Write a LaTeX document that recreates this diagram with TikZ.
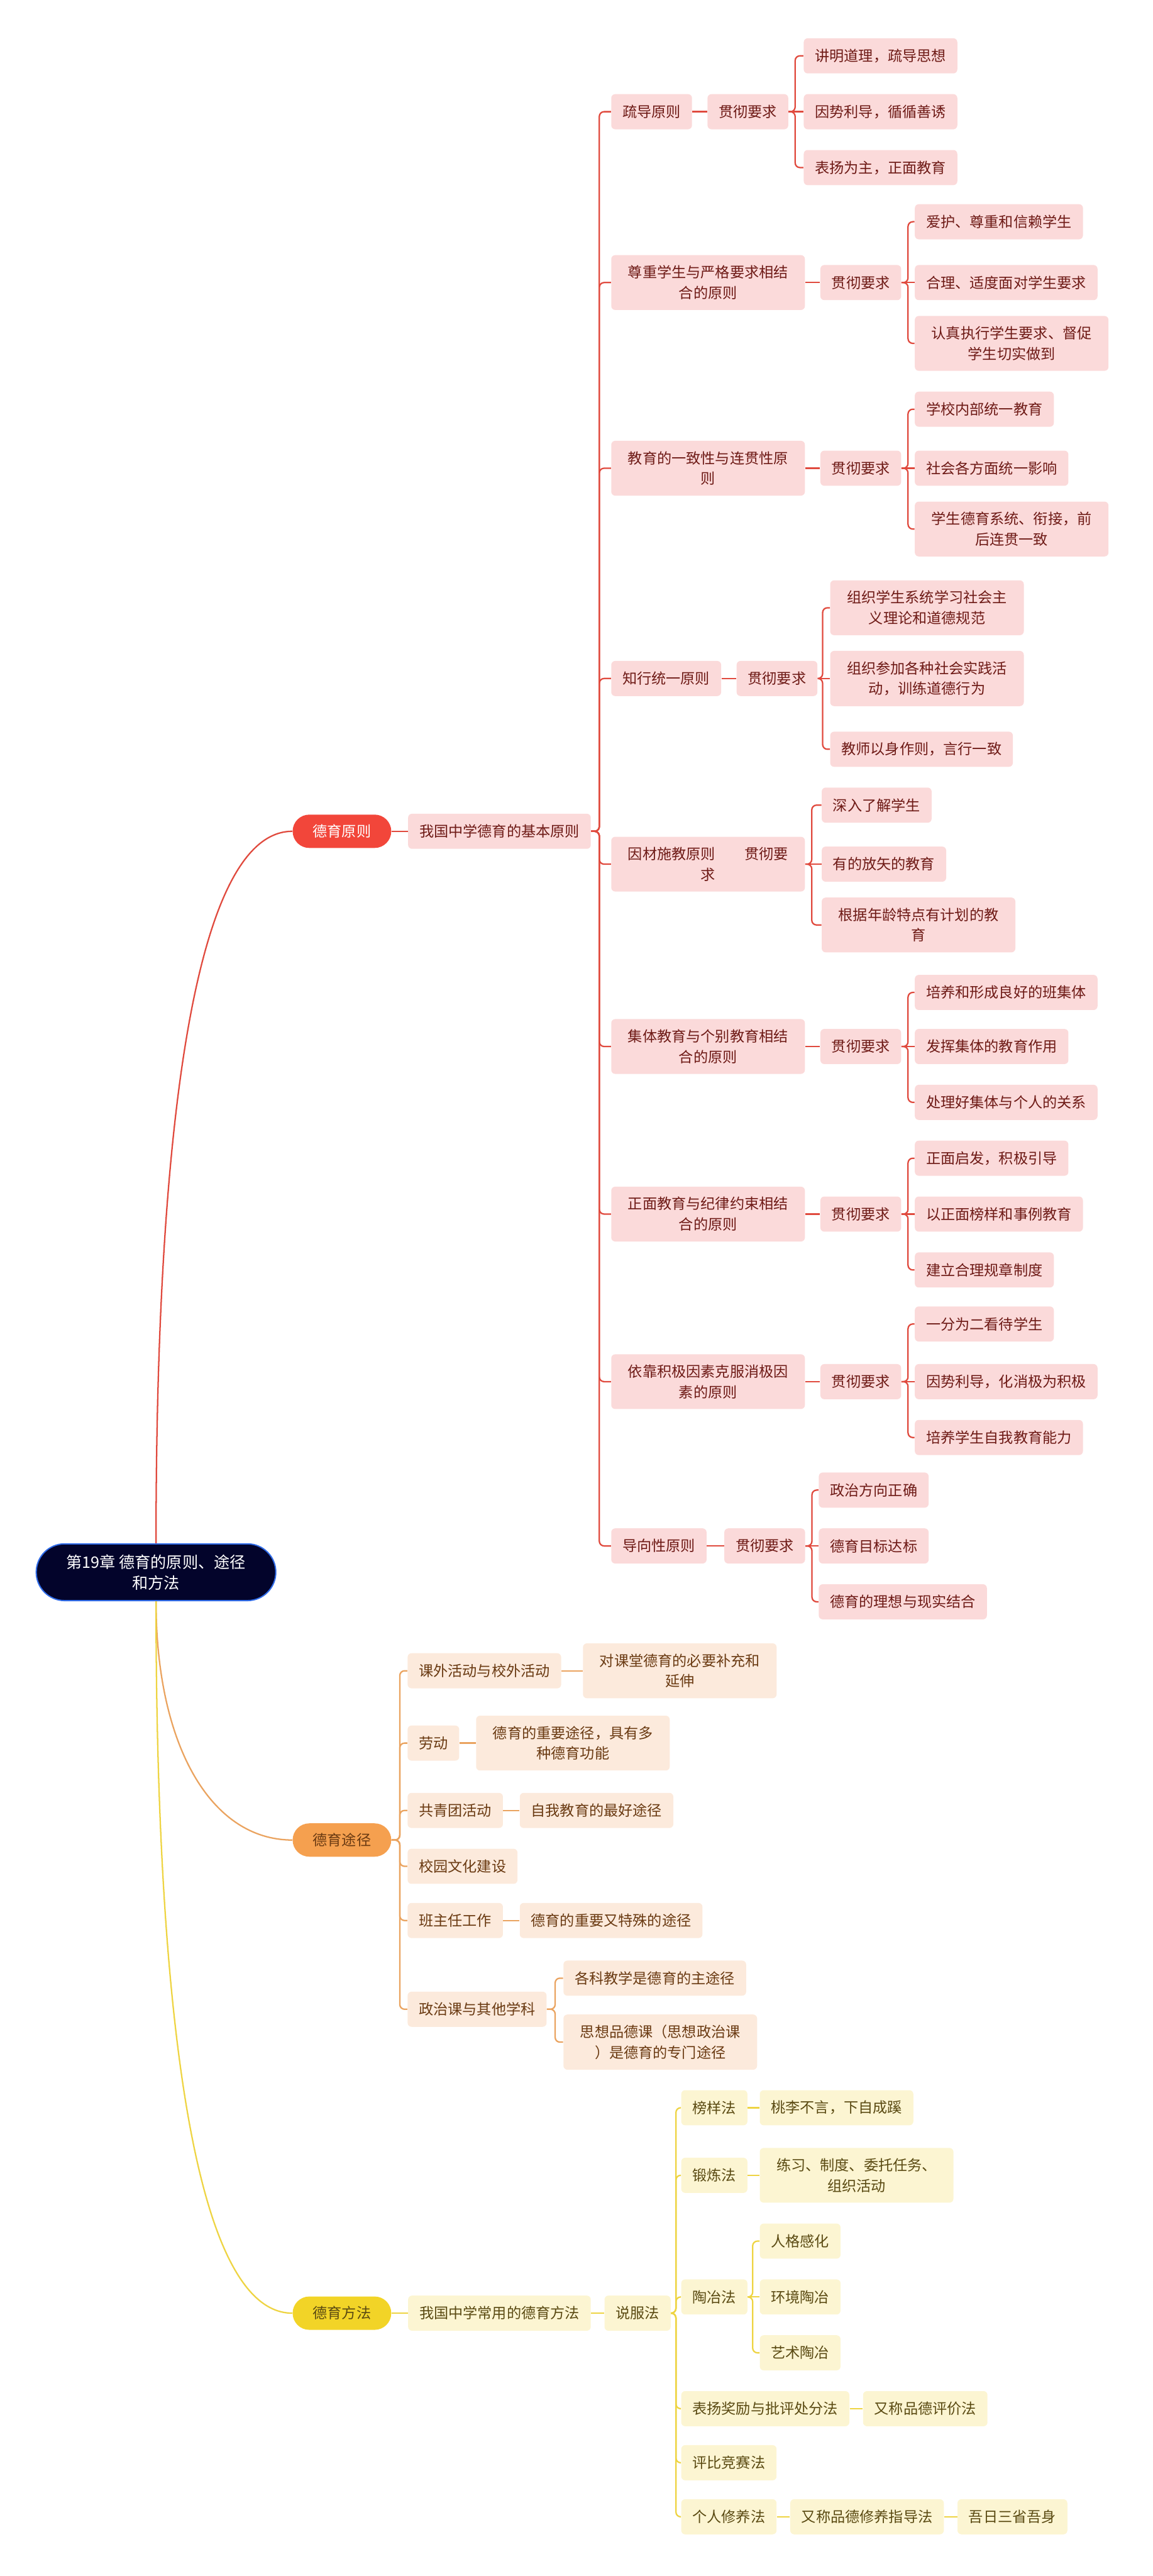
\documentclass[tikz,border=0pt]{standalone}
\usepackage{fontspec}
\usepackage{xcolor}
\usepackage{tikz}
\usetikzlibrary{
    positioning
}
\newfontfamily\cjk{Noto Sans CJK SC}

\definecolor{rootfill}{HTML}{03042B}
\definecolor{rootedge}{HTML}{2F6BE8}
\definecolor{redpill}{HTML}{F2463A}
\definecolor{redline}{HTML}{E04A3E}
\definecolor{redfill}{HTML}{FBDADA}
\definecolor{redtext}{HTML}{6E1A16}
\definecolor{orgpill}{HTML}{F5A04F}
\definecolor{orgline}{HTML}{EAA35F}
\definecolor{orgfill}{HTML}{FCEADC}
\definecolor{orgtext}{HTML}{6A3A12}
\definecolor{yelpill}{HTML}{F2D427}
\definecolor{yelline}{HTML}{EED443}
\definecolor{yelfill}{HTML}{FCF5D2}
\definecolor{yeltext}{HTML}{5A4A12}

\begin{document}
\begin{tikzpicture}[
    x=0.03647cm, y=-0.03647cm,
    box/.style={
        rounded corners=2.5pt,
        inner xsep=0.25cm,
        inner ysep=0.23cm,
        minimum height=0.78cm,
        align=center,
        font=\cjk\fontsize{9.2pt}{13pt}\selectfont
    },
    wrap/.style={text width=3.8cm},
    rbox/.style={box, fill=redfill, text=redtext},
    obox/.style={box, fill=orgfill, text=orgtext},
    ybox/.style={box, fill=yelfill, text=yeltext},
    pill/.style={
        rounded corners=0.37cm,
        minimum width=2.19cm,
        minimum height=0.74cm,
        inner sep=0pt,
        font=\cjk\fontsize{9.2pt}{13pt}\selectfont
    },
    rline/.style={draw=redline, line width=0.9pt},
    oline/.style={draw=orgline, line width=0.9pt},
    yline/.style={draw=yelline, line width=0.9pt},
    fork/.style={rounded corners=3pt}
]
\useasboundingbox (0,0) rectangle (702,1568);

% root and main branches
\node[draw=rootedge, fill=rootfill, text=white, line width=0.8pt,
rounded corners=0.63cm, minimum width=5.32cm, minimum height=1.26cm,
align=center, font=\cjk\fontsize{10pt}{13pt}\selectfont] (root) at (95,957)
{第19章 德育的原则、途径\\和方法};

\node[pill, fill=redpill, text=white, anchor=west] (prin) at (178,506) {德育原则};
\node[pill, fill=orgpill, text=orgtext, anchor=west] (way) at (178,1120) {德育途径};
\node[pill, fill=yelpill, text=yeltext, anchor=west] (meth) at (178,1408) {德育方法};

\draw[rline] (root.north) .. controls +(0,-238) and +(-62,0) .. (prin.west);
\draw[oline] (root.south) .. controls +(0,87) and +(-50,0) .. (way.west);
\draw[yline] (root.south) .. controls +(0,238) and +(-62,0) .. (meth.west);

% principles
\node[rbox, right=0.36cm of prin] (basic) {我国中学德育的基本原则};
\draw[rline] (prin) -- (basic);

\node[rbox, anchor=west] (p1) at (372,68) {疏导原则};
\node[rbox, right=0.33cm of p1] (r1) {贯彻要求};
\node[rbox, right=0.33cm of r1, yshift=1.24cm] (p1a) {讲明道理，疏导思想};
\node[rbox, right=0.33cm of r1] (p1b) {因势利导，循循善诱};
\node[rbox, right=0.33cm of r1, yshift=-1.24cm] (p1c) {表扬为主，正面教育};

\node[rbox, wrap, anchor=west] (p2) at (372,172) {尊重学生与严格要求相结\\合的原则};
\node[rbox, right=0.33cm of p2] (r2) {贯彻要求};
\node[rbox, right=0.29cm of r2, yshift=1.35cm] (p2a) {爱护、尊重和信赖学生};
\node[rbox, right=0.29cm of r2] (p2b) {合理、适度面对学生要求};
\node[rbox, wrap, right=0.29cm of r2, yshift=-1.35cm] (p2c) {认真执行学生要求、督促\\学生切实做到};

\node[rbox, wrap, anchor=west] (p3) at (372,285) {教育的一致性与连贯性原\\则};
\node[rbox, right=0.33cm of p3] (r3) {贯彻要求};
\node[rbox, right=0.29cm of r3, yshift=1.31cm] (p3a) {学校内部统一教育};
\node[rbox, right=0.29cm of r3] (p3b) {社会各方面统一影响};
\node[rbox, wrap, right=0.29cm of r3, yshift=-1.35cm] (p3c) {学生德育系统、衔接，前\\后连贯一致};

\node[rbox, anchor=west] (p4) at (372,413) {知行统一原则};
\node[rbox, right=0.33cm of p4] (r4) {贯彻要求};
\node[rbox, wrap, right=0.27cm of r4, yshift=1.57cm] (p4a) {组织学生系统学习社会主\\义理论和道德规范};
\node[rbox, wrap, right=0.27cm of r4] (p4b) {组织参加各种社会实践活\\动，训练道德行为};
\node[rbox, right=0.27cm of r4, yshift=-1.57cm] (p4c) {教师以身作则，言行一致};

\node[rbox, wrap, anchor=west] (p5) at (372,526) {因材施教原则\hspace{2em}贯彻要\\求};
\node[rbox, right=0.36cm of p5, yshift=1.31cm] (p5a) {深入了解学生};
\node[rbox, right=0.36cm of p5] (p5b) {有的放矢的教育};
\node[rbox, wrap, right=0.36cm of p5, yshift=-1.35cm] (p5c) {根据年龄特点有计划的教\\育};

\node[rbox, wrap, anchor=west] (p6) at (372,637) {集体教育与个别教育相结\\合的原则};
\node[rbox, right=0.33cm of p6] (r6) {贯彻要求};
\node[rbox, right=0.29cm of r6, yshift=1.20cm] (p6a) {培养和形成良好的班集体};
\node[rbox, right=0.29cm of r6] (p6b) {发挥集体的教育作用};
\node[rbox, right=0.29cm of r6, yshift=-1.24cm] (p6c) {处理好集体与个人的关系};

\node[rbox, wrap, anchor=west] (p7) at (372,739) {正面教育与纪律约束相结\\合的原则};
\node[rbox, right=0.33cm of p7] (r7) {贯彻要求};
\node[rbox, right=0.29cm of r7, yshift=1.24cm] (p7a) {正面启发，积极引导};
\node[rbox, right=0.29cm of r7] (p7b) {以正面榜样和事例教育};
\node[rbox, right=0.29cm of r7, yshift=-1.24cm] (p7c) {建立合理规章制度};

\node[rbox, wrap, anchor=west] (p8) at (372,841) {依靠积极因素克服消极因\\素的原则};
\node[rbox, right=0.33cm of p8] (r8) {贯彻要求};
\node[rbox, right=0.29cm of r8, yshift=1.28cm] (p8a) {一分为二看待学生};
\node[rbox, right=0.29cm of r8] (p8b) {因势利导，化消极为积极};
\node[rbox, right=0.29cm of r8, yshift=-1.24cm] (p8c) {培养学生自我教育能力};

\node[rbox, anchor=west] (p9) at (372,941) {导向性原则};
\node[rbox, right=0.38cm of p9] (r9) {贯彻要求};
\node[rbox, right=0.29cm of r9, yshift=1.24cm] (p9a) {政治方向正确};
\node[rbox, right=0.29cm of r9] (p9b) {德育目标达标};
\node[rbox, right=0.29cm of r9, yshift=-1.24cm] (p9c) {德育的理想与现实结合};

\draw[rline, fork] (basic.east) -- ++(5,0) |- (p1.west);
\draw[rline, fork] (basic.east) -- ++(5,0) |- (p2.west);
\draw[rline, fork] (basic.east) -- ++(5,0) |- (p3.west);
\draw[rline, fork] (basic.east) -- ++(5,0) |- (p4.west);
\draw[rline, fork] (basic.east) -- ++(5,0) |- (p5.west);
\draw[rline, fork] (basic.east) -- ++(5,0) |- (p6.west);
\draw[rline, fork] (basic.east) -- ++(5,0) |- (p7.west);
\draw[rline, fork] (basic.east) -- ++(5,0) |- (p8.west);
\draw[rline, fork] (basic.east) -- ++(5,0) |- (p9.west);

\draw[rline] (p1) -- (r1);
\draw[rline] (p2) -- (r2);
\draw[rline] (p3) -- (r3);
\draw[rline] (p4) -- (r4);
\draw[rline] (p6) -- (r6);
\draw[rline] (p7) -- (r7);
\draw[rline] (p8) -- (r8);
\draw[rline] (p9) -- (r9);

\draw[rline, fork] (r1.east) -- ++(4,0) |- (p1a.west);
\draw[rline] (r1) -- (p1b);
\draw[rline, fork] (r1.east) -- ++(4,0) |- (p1c.west);
\draw[rline, fork] (r2.east) -- ++(4,0) |- (p2a.west);
\draw[rline] (r2) -- (p2b);
\draw[rline, fork] (r2.east) -- ++(4,0) |- (p2c.west);
\draw[rline, fork] (r3.east) -- ++(4,0) |- (p3a.west);
\draw[rline] (r3) -- (p3b);
\draw[rline, fork] (r3.east) -- ++(4,0) |- (p3c.west);
\draw[rline, fork] (r4.east) -- ++(3,0) |- (p4a.west);
\draw[rline] (r4) -- (p4b);
\draw[rline, fork] (r4.east) -- ++(3,0) |- (p4c.west);
\draw[rline, fork] (p5.east) -- ++(4,0) |- (p5a.west);
\draw[rline] (p5) -- (p5b);
\draw[rline, fork] (p5.east) -- ++(4,0) |- (p5c.west);
\draw[rline, fork] (r6.east) -- ++(4,0) |- (p6a.west);
\draw[rline] (r6) -- (p6b);
\draw[rline, fork] (r6.east) -- ++(4,0) |- (p6c.west);
\draw[rline, fork] (r7.east) -- ++(4,0) |- (p7a.west);
\draw[rline] (r7) -- (p7b);
\draw[rline, fork] (r7.east) -- ++(4,0) |- (p7c.west);
\draw[rline, fork] (r8.east) -- ++(4,0) |- (p8a.west);
\draw[rline] (r8) -- (p8b);
\draw[rline, fork] (r8.east) -- ++(4,0) |- (p8c.west);
\draw[rline, fork] (r9.east) -- ++(4,0) |- (p9a.west);
\draw[rline] (r9) -- (p9b);
\draw[rline, fork] (r9.east) -- ++(4,0) |- (p9c.west);

% ways
\node[obox, anchor=west] (w1) at (248,1017) {课外活动与校外活动};
\node[obox, wrap, right=0.47cm of w1] (w1a) {对课堂德育的必要补充和\\延伸};
\node[obox, anchor=west] (w2) at (248,1061) {劳动};
\node[obox, wrap, right=0.36cm of w2] (w2a) {德育的重要途径，具有多\\种德育功能};
\node[obox, anchor=west] (w3) at (248,1102) {共青团活动};
\node[obox, right=0.36cm of w3] (w3a) {自我教育的最好途径};
\node[obox, anchor=west] (w4) at (248,1136) {校园文化建设};
\node[obox, anchor=west] (w5) at (248,1169) {班主任工作};
\node[obox, right=0.36cm of w5] (w5a) {德育的重要又特殊的途径};
\node[obox, anchor=west] (w6) at (248,1223) {政治课与其他学科};
\node[obox, right=0.36cm of w6, yshift=0.69cm] (w6a) {各科教学是德育的主途径};
\node[obox, wrap, right=0.36cm of w6, yshift=-0.73cm] (w6b) {思想品德课（思想政治课\\）是德育的专门途径};

\draw[oline, fork] (way.east) -- ++(5,0) |- (w1.west);
\draw[oline, fork] (way.east) -- ++(5,0) |- (w2.west);
\draw[oline, fork] (way.east) -- ++(5,0) |- (w3.west);
\draw[oline, fork] (way.east) -- ++(5,0) |- (w4.west);
\draw[oline, fork] (way.east) -- ++(5,0) |- (w5.west);
\draw[oline, fork] (way.east) -- ++(5,0) |- (w6.west);
\draw[oline] (w1) -- (w1a);
\draw[oline] (w2) -- (w2a);
\draw[oline] (w3) -- (w3a);
\draw[oline] (w5) -- (w5a);
\draw[oline, fork] (w6.east) -- ++(5,0) |- (w6a.west);
\draw[oline, fork] (w6.east) -- ++(5,0) |- (w6b.west);

% methods
\node[ybox, right=0.36cm of meth] (common) {我国中学常用的德育方法};
\node[ybox, right=0.29cm of common] (persuade) {说服法};
\draw[yline] (meth) -- (common);
\draw[yline] (common) -- (persuade);

\node[ybox, right=0.22cm of persuade, yshift=4.56cm] (m1) {榜样法};
\node[ybox, right=0.26cm of m1] (m1a) {桃李不言，下自成蹊};
\node[ybox, right=0.22cm of persuade, yshift=3.06cm] (m2) {锻炼法};
\node[ybox, wrap, right=0.26cm of m2] (m2a) {练习、制度、委托任务、\\组织活动};
\node[ybox, right=0.22cm of persuade, yshift=0.36cm] (m3) {陶冶法};
\node[ybox, right=0.26cm of m3, yshift=1.24cm] (m3a) {人格感化};
\node[ybox, right=0.26cm of m3] (m3b) {环境陶冶};
\node[ybox, right=0.26cm of m3, yshift=-1.24cm] (m3c) {艺术陶冶};
\node[ybox, right=0.22cm of persuade, yshift=-2.12cm] (m4) {表扬奖励与批评处分法};
\node[ybox, right=0.29cm of m4] (m4a) {又称品德评价法};
\node[ybox, right=0.22cm of persuade, yshift=-3.32cm] (m5) {评比竞赛法};
\node[ybox, right=0.22cm of persuade, yshift=-4.52cm] (m6) {个人修养法};
\node[ybox, right=0.29cm of m6] (m6a) {又称品德修养指导法};
\node[ybox, right=0.29cm of m6a] (m6b) {吾日三省吾身};

\draw[yline, fork] (persuade.east) -- ++(3,0) |- (m1.west);
\draw[yline, fork] (persuade.east) -- ++(3,0) |- (m2.west);
\draw[yline, fork] (persuade.east) -- ++(3,0) |- (m3.west);
\draw[yline, fork] (persuade.east) -- ++(3,0) |- (m4.west);
\draw[yline, fork] (persuade.east) -- ++(3,0) |- (m5.west);
\draw[yline, fork] (persuade.east) -- ++(3,0) |- (m6.west);
\draw[yline] (m1) -- (m1a);
\draw[yline] (m2) -- (m2a);
\draw[yline, fork] (m3.east) -- ++(3,0) |- (m3a.west);
\draw[yline] (m3) -- (m3b);
\draw[yline, fork] (m3.east) -- ++(3,0) |- (m3c.west);
\draw[yline] (m4) -- (m4a);
\draw[yline] (m6) -- (m6a);
\draw[yline] (m6a) -- (m6b);

\end{tikzpicture}
\end{document}
